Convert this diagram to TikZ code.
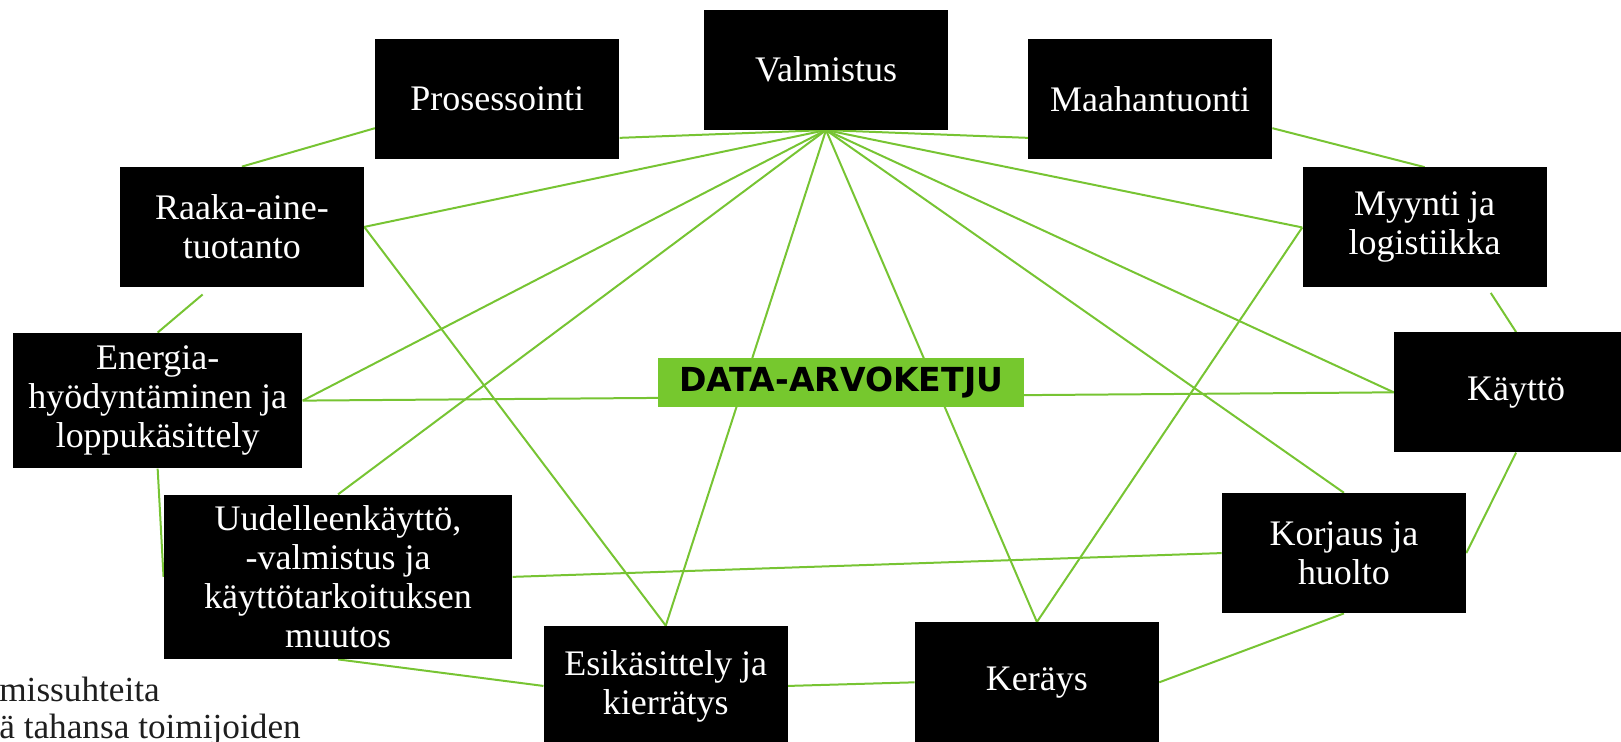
\documentclass[tikz,border=0pt]{standalone}
\usepackage{fontspec}
\setmainfont{Liberation Serif}
\newfontfamily\headfont{DejaVu Sans}
\usetikzlibrary{calc,backgrounds}
\definecolor{linkgreen}{RGB}{119,196,51}
\definecolor{datagreen}{RGB}{118,200,46}
\definecolor{notegray}{RGB}{30,30,30}

\begin{document}
\begin{tikzpicture}[x=0.02cm,y=-0.02cm,
  box/.style={fill=black,text=white,align=center,inner sep=0pt,
    minimum width=4.72cm,minimum height=2.32cm,font=\fontsize{19.8}{21.5}\selectfont},
  link/.style={linkgreen,line width=1.1pt}]
\useasboundingbox (0,0) rectangle (1568,717);

\node[box] (valm) at (799,67.5) {Valmistus};
\node[box] (pros) at (481,96) {Prosessointi};
\node[box] (maah) at (1112.5,96) {Maahantuonti};
\node[box] (raaka) at (234,219.5) {Raaka-aine-\\tuotanto};
\node[box] (myynti) at (1378,220) {Myynti ja\\logistiikka};
\node[box,minimum width=5.6cm,minimum height=2.62cm] (energia) at (152.5,387.5) {Energia-\\hyödyntäminen ja\\loppukäsittely};
\node[box] (kaytto) at (1466.5,379.5) {Käyttö};
\node[box,minimum width=6.74cm,minimum height=3.18cm] (uudel) at (327,558) {Uudelleenkäyttö,\\-valmistus ja\\käyttötarkoituksen\\muutos};
\node[box] (korjaus) at (1300,535) {Korjaus ja\\huolto};
\node[box] (esik) at (644,663.5) {Esikäsittely ja\\kierrätys};
\node[box] (keray) at (1003,660) {Keräys};

\node[fill=datagreen,inner sep=0pt,minimum width=7.08cm,minimum height=0.94cm,
  font=\headfont\bfseries\fontsize{18.2}{20}\selectfont] (data) at (813.8,370) {DATA-ARVOKETJU};

\node[anchor=base west,inner sep=0pt,text=notegray,font=\fontsize{19.4}{21}\selectfont] (note1) at (-1,679) {missuhteita};
\node[anchor=base west,inner sep=0pt,text=notegray,font=\fontsize{19.4}{21}\selectfont] (note2) at (-1,714) {ä tahansa toimijoiden};

\begin{scope}[on background layer]
% valmistus to all
\draw[link] (valm.south) -- ($(pros.south east)+(0,-21)$);
\draw[link] (valm.south) -- ($(maah.south west)+(0,-21)$);
\draw[link] (valm.south) -- (raaka.east);
\draw[link] (valm.south) -- (myynti.west);
\draw[link] (valm.south) -- (energia.east);
\draw[link] (valm.south) -- (kaytto.west);
\draw[link] (valm.south) -- (uudel.north);
\draw[link] (valm.south) -- (korjaus.north);
\draw[link] (valm.south) -- (esik.north);
\draw[link] (valm.south) -- (keray.north);
% crossing
\draw[link] (raaka.east) -- (esik.north);
\draw[link] (myynti.west) -- (keray.north);
\draw[link] (energia.east) -- (kaytto.west);
\draw[link] (uudel.east) -- (korjaus.west);
% ring
\draw[link] ($(pros.west)+(0,28)$) -- (raaka.north);
\draw[link] ($(raaka.south)+(-38,7)$) -- (energia.north);
\draw[link] (energia.south) -- (uudel.west);
\draw[link] (uudel.south) -- (esik.west);
\draw[link] (esik.east) -- (keray.west);
\draw[link] (keray.east) -- (korjaus.south);
\draw[link] (korjaus.east) -- (kaytto.south);
\draw[link] (kaytto.north) -- ($(myynti.south)+(64,5)$);
\draw[link] ($(maah.east)+(0,28)$) -- (myynti.north);
\end{scope}
\end{tikzpicture}
\end{document}
